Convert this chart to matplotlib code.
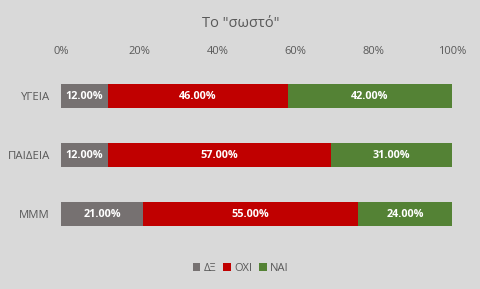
import numpy as np
import matplotlib
matplotlib.use('Agg')
import matplotlib.pyplot as plt

plt.rcParams['font.family'] = ['Open Sans', 'DejaVu Sans']

categories = ['ΥΓΕΙΑ', 'ΠΑΙΔΕΙΑ', 'MMM']
series_names = ['ΔΞ', 'ΟΧΙ', 'ΝΑΙ']
dx = [12, 12, 21]
oxi = [46, 57, 55]
nai = [42, 31, 24]
colors = ['#767171', '#C00000', '#548235']
tick_labels = ['0%', '20%', '40%', '60%', '80%', '100%']

bg = '#D9D9D9'
txt = '#595959'

fig = plt.figure(figsize=(4.81, 2.89), dpi=100, facecolor=bg)
ax = fig.add_axes([0.1268, 0.1574, 0.8129, 0.6125])
ax.set_facecolor(bg)

y = np.arange(len(categories))
left = np.zeros(len(categories))
for name, vals, c in zip(series_names, [dx, oxi, nai], colors):
    vals = np.array(vals, dtype=float)
    bars = ax.barh(y, vals, left=left, height=0.41, color=c, label=name)
    for b, v in zip(bars, vals):
        ax.text(b.get_x() + b.get_width() / 2, b.get_y() + b.get_height() / 2,
                f'{v:.2f}%', ha='center', va='center', color='white',
                fontsize=7.8, fontweight='bold')
    left += vals

ax.set_xlim(0, 100)
ax.set_ylim(len(categories) - 0.5, -0.5)
ax.set_yticks(y)
ax.set_yticklabels(categories, color=txt, fontsize=8.2)
ax.set_xticks(np.arange(0, 101, 20))
ax.set_xticklabels(tick_labels, color=txt, fontsize=8)
ax.xaxis.tick_top()
ax.tick_params(axis='x', length=0, pad=7)
ax.tick_params(axis='y', length=0, pad=8)
for s in ax.spines.values():
    s.set_visible(False)

fig.text(0.5, 0.92, 'Το "σωστό"', ha='center', va='center', color=txt, fontsize=10.5)

fig.legend(loc='center', bbox_to_anchor=(0.5, 0.072), ncol=3, frameon=False,
           fontsize=8, labelcolor=txt, handlelength=0.7, handleheight=0.7,
           handletextpad=0.3, columnspacing=0.6)

fig.savefig('out.png', dpi=100, facecolor=bg)
